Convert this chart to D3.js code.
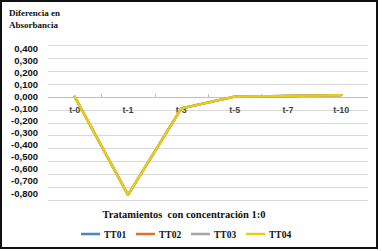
<!DOCTYPE html>
<html><head><meta charset="utf-8">
<script src="https://cdn.jsdelivr.net/npm/d3@7"></script>
<style>html,body{margin:0;padding:0;background:#fff;}svg{display:block;}
.serif{font-family:"Liberation Serif","Times New Roman","DejaVu Serif",serif;font-weight:bold;}
.sans{font-family:"Liberation Sans",Arial,sans-serif;font-weight:bold;}
</style>
</head><body>
<script>
const categories = ["t-0","t-1","t-3","t-5","t-7","t-10"];
const seriesNames = ["TT01","TT02","TT03","TT04"];
const tt01 = [0, -0.76, -0.09, 0.0, 0.005, 0.012];
const tt02 = [0, -0.76, -0.09, 0.0, 0.005, 0.012];
const tt03 = [0, -0.76, -0.09, 0.0, 0.005, 0.012];
const tt04 = [0, -0.76, -0.09, 0.0, 0.005, 0.012];
const colors = ["#4A85C8","#E0702A","#A5A5A5","#E9CD10"];
const yTicks = [0.4,0.3,0.2,0.1,0,-0.1,-0.2,-0.3,-0.4,-0.5,-0.6,-0.7,-0.8];

const W = 382, H = 251;
const svg = d3.select("body").append("svg").attr("width", W).attr("height", H);
svg.append("rect").attr("width", W).attr("height", H).attr("fill", "#fff");
svg.append("rect").attr("x", 1).attr("y", 1).attr("width", 376).attr("height", 247)
  .attr("fill", "none").attr("stroke", "#111").attr("stroke-width", 2);

const x = d3.scaleBand().domain(categories).range([48, 368]);
const y = d3.scaleLinear().domain([-0.8, 0.4]).range([200, 45]);
const yLab = d3.scaleLinear().domain([-0.8, 0.4]).range([193, 48]);

// gridlines
svg.append("g").selectAll("line").data(yTicks).join("line")
  .attr("x1", 48).attr("x2", 368)
  .attr("y1", d => Math.round(y(d)) + 0.5).attr("y2", d => Math.round(y(d)) + 0.5)
  .attr("stroke", d => d === 0 ? "#BFBFBF" : "#D9D9D9").attr("stroke-width", 1);

// y axis labels
const fmt = d => d3.format(".3f")(d).replace("−", "-").replace(".", ",");
const yAxis = d3.axisLeft(yLab).tickValues(yTicks).tickFormat(fmt).tickSize(0).tickPadding(0);
const gy = svg.append("g").attr("transform", "translate(38,0)").call(yAxis);
gy.select(".domain").remove();
gy.attr("font-family", null).attr("font-size", null);
gy.selectAll("text").attr("class", "sans").style("font-size", "9.5px").attr("fill", "#111");

// x axis at zero
const gx = svg.append("g").attr("transform", `translate(0,${Math.round(y(0))})`);
const bounds = categories.slice(1).map(c => x(c));
gx.selectAll("line.tk").data(bounds).join("line").attr("class","tk")
  .attr("x1", d => Math.round(d) + 0.5).attr("x2", d => Math.round(d) + 0.5)
  .attr("y1", 0).attr("y2", -3).attr("stroke", "#BFBFBF");
gx.selectAll("text").data(categories).join("text")
  .attr("x", d => x(d) + x.bandwidth() / 2).attr("y", 16)
  .attr("text-anchor", "middle").attr("class", "sans").style("font-size", "9px")
  .attr("fill", "#444").text(d => d);

// lines
const allSeries = [tt01, tt02, tt03, tt04];
const line = d3.line().x((d, i) => x(categories[i]) + x.bandwidth() / 2).y(d => y(d));
svg.append("g").selectAll("path").data(allSeries).join("path")
  .attr("d", d => line(d)).attr("fill", "none")
  .attr("stroke", (d, i) => colors[i]).attr("stroke-width", 2.3)
  .attr("stroke-linejoin", "round").attr("stroke-linecap", "round");

// title
const t = svg.append("text").attr("class", "serif").style("font-size", "9px").attr("fill", "#111");
t.append("tspan").attr("x", 9).attr("y", 16).text("Diferencia en");
t.append("tspan").attr("x", 9).attr("y", 28).text("Absorbancia");

// x title
svg.append("text").attr("x", 184).attr("y", 218).attr("text-anchor", "middle")
  .attr("class", "serif").style("font-size", "10.5px").style("white-space", "pre")
  .attr("fill", "#111").text("Tratamientos  con concentración 1:0");

// legend
const legX = [81, 136, 191, 246];
const lg = svg.append("g").selectAll("g").data(seriesNames).join("g")
  .attr("transform", (d, i) => `translate(${legX[i]},234)`);
lg.append("line").attr("x1", 0).attr("x2", 19).attr("y1", 0).attr("y2", 0)
  .attr("stroke", (d, i) => colors[i]).attr("stroke-width", 2.5);
lg.append("text").attr("x", 23).attr("y", 3.5).attr("class", "serif")
  .style("font-size", "9.5px").attr("fill", "#111").text(d => d);
</script>
</body></html>
